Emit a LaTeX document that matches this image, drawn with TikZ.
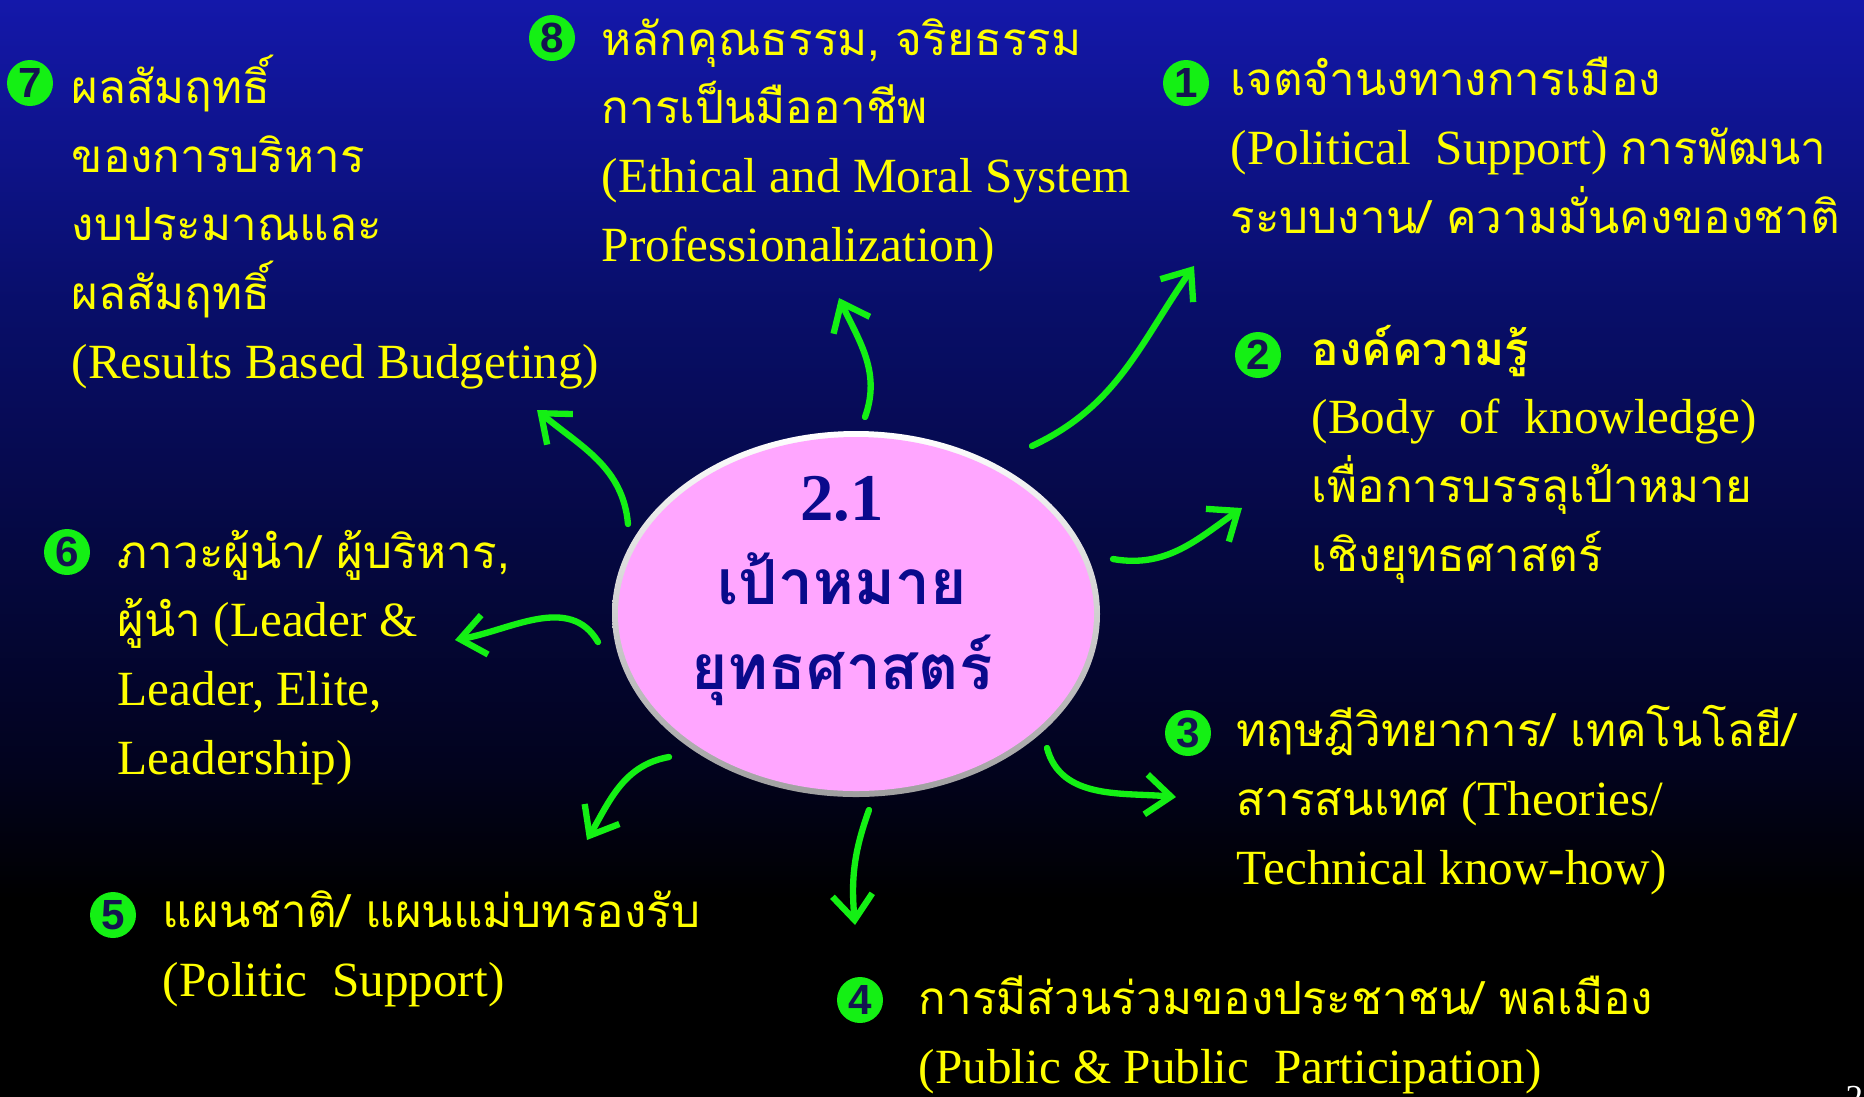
\documentclass[tikz,border=0pt]{standalone}
\usepackage{fontspec}
\setmainfont{Liberation Serif}
\newfontfamily\thaifont[Script=Thai,Scale=0.93]{Loma}
\newfontfamily\numfont{Liberation Sans}
\newcommand{\thtxt}[1]{{\thaifont #1}}
\usetikzlibrary{arrows.meta,positioning,shapes.geometric}

\definecolor{bgtop}{RGB}{20,24,170}
\definecolor{bgupper}{RGB}{8,14,105}
\definecolor{bgmid}{RGB}{5,8,65}
\definecolor{bglow}{RGB}{2,3,30}
\definecolor{labelyellow}{RGB}{255,255,0}
\definecolor{arrowgreen}{RGB}{20,240,20}
\definecolor{dignavy}{RGB}{20,20,80}
\definecolor{goalpink}{RGB}{255,166,255}
\definecolor{goalblue}{RGB}{10,10,140}
\pgfdeclareverticalshading{slidebg}{100bp}{color(0bp)=(black); color(34bp)=(black); color(40bp)=(bglow); color(50bp)=(bgmid); color(61bp)=(bgupper); color(75bp)=(bgtop); color(100bp)=(bgtop)}

\begin{document}
\begin{tikzpicture}[
    every node/.style={inner sep=0pt},
    % anchor at the baseline of the LAST line of each block
    label/.style={text=labelyellow, align=left, anchor=base west, font=\fontsize{14}{19.5}\selectfont},
    numdot/.style={circle, fill=arrowgreen, minimum size=0.46cm, text=dignavy, font=\numfont\bfseries\fontsize{12}{12}\selectfont},
    rim/.style={ellipse, minimum width=4.88cm, minimum height=3.66cm, top color=white, bottom color=gray!75},
    goal/.style={ellipse, minimum width=4.76cm, minimum height=3.54cm, fill=goalpink},
    link/.style={draw=arrowgreen, line width=1.8pt, line cap=round, -{Straight Barb[length=2.5mm, width=4mm]}},
]
    \useasboundingbox (0,0) rectangle (18.64,-10.96);
    \shade[shading=slidebg] (0,0) rectangle (18.64,-10.96);

    % Centre: the strategic goal
    \node[rim] (goalrim) at (8.56,-6.14) {};
    \node[goal] (goal) at (8.56,-6.14) {};
    \node[text=goalblue, align=center, anchor=base, font=\bfseries\fontsize{19}{24}\selectfont] (goaltext) at (8.42,-6.89)
        {2.1\\ \thtxt{เป้าหมาย}\\ \thtxt{ยุทธศาสตร์}};

    % Numbered items, clockwise from the top right
    \node[numdot] (n1) at (11.86,-0.83) {1};
    \node[label] (t1) at (12.30,-2.33)
        {\thtxt{เจตจำนงทางการเมือง}\\ (Political\ \ Support) \thtxt{การพัฒนา}\\ \thtxt{ระบบงาน/ ความมั่นคงของชาติ}};

    \node[numdot] (n2) at (12.58,-3.55) {2};
    \node[label] (t2) at (13.11,-5.71)
        {\thtxt{\bfseries องค์ความรู้}\\ (Body\ \ of\ \ knowledge)\\ \thtxt{เพื่อการบรรลุเป้าหมาย}\\ \thtxt{เชิงยุทธศาสตร์}};

    \node[numdot] (n3) at (11.88,-7.33) {3};
    \node[label] (t3) at (12.36,-8.84)
        {\thtxt{ทฤษฎีวิทยาการ/ เทคโนโลยี/}\\ \thtxt{สารสนเทศ} (Theories/\\ Technical know-how)};

    \node[numdot] (n4) at (8.60,-10.00) {4};
    \node[label] (t4) at (9.18,-10.83)
        {\thtxt{การมีส่วนร่วมของประชาชน/ พลเมือง}\\ (Public \& Public\ \ Participation)};

    \node[numdot] (n5) at (1.13,-9.15) {5};
    \node[label] (t5) at (1.62,-9.96)
        {\thtxt{แผนชาติ/ แผนแม่บทรองรับ}\\ (Politic\ \ Support)};

    \node[numdot] (n6) at (0.67,-5.52) {6};
    \node[label] (t6) at (1.17,-7.74)
        {\thtxt{ภาวะผู้นำ/ ผู้บริหาร,}\\ \thtxt{ผู้นำ} (Leader \&\\ Leader, Elite,\\ Leadership)};

    \node[numdot] (n7) at (0.30,-0.83) {7};
    \node[label] (t7) at (0.71,-3.78)
        {\thtxt{ผลสัมฤทธิ์}\\ \thtxt{ของการบริหาร}\\ \thtxt{งบประมาณและ}\\ \thtxt{ผลสัมฤทธิ์}\\ (Results Based Budgeting)};

    \node[numdot] (n8) at (5.52,-0.38) {8};
    \node[label] (t8) at (6.01,-2.61)
        {\thtxt{หลักคุณธรรม, จริยธรรม}\\ \thtxt{การเป็นมืออาชีพ}\\ (Ethical and Moral System\\ Professionalization)};

    % Slide number, cut by the page edge
    \node[text=white, anchor=base west, font=\fontsize{10}{10}\selectfont] (pageno) at (18.45,-11.09) {28};

    % Arrow ends
    \coordinate (s1) at (10.32,-4.46);  \coordinate (e1) at (11.94,-2.66);
    \coordinate (s2) at (11.13,-5.59);  \coordinate (e2) at (12.42,-5.08);
    \coordinate (s3) at (10.47,-7.48);  \coordinate (e3) at (11.76,-7.97);
    \coordinate (s4) at (8.69,-8.10);   \coordinate (e4) at (8.55,-9.25);
    \coordinate (s5) at (6.69,-7.57);   \coordinate (e5) at (5.87,-8.40);
    \coordinate (s6) at (5.98,-6.42);   \coordinate (e6) at (4.55,-6.40);
    \coordinate (s7) at (6.28,-5.24);   \coordinate (e7) at (5.37,-4.10);
    \coordinate (s8) at (8.65,-4.17);   \coordinate (e8) at (8.39,-2.98);

    % Arrows out of the goal
    \draw[link] (s1) to[out=25, in=235] (e1);
    \draw[link] (s2) to[out=-10, in=215] (e2);
    \draw[link] (s3) to[out=-75, in=175] (e3);
    \draw[link] (s4) to[out=250, in=95] (e4);
    \draw[link] (s5) to[out=190, in=60] (e5);
    \draw[link] (s6) to[out=120, in=10] (e6);
    \draw[link] (s7) to[out=95, in=-40] (e7);
    \draw[link] (s8) to[out=70, in=-65] (e8);
\end{tikzpicture}
\end{document}
